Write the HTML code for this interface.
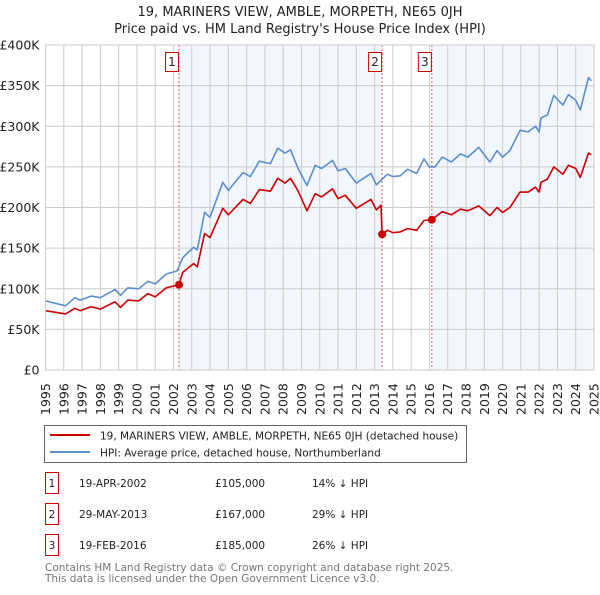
<!DOCTYPE html>
<html><head><meta charset="utf-8"><style>
body{margin:0;background:#fff;font-family:"Liberation Sans","DejaVu Sans",sans-serif;}
svg text{font-family:"DejaVu Sans","Liberation Sans",sans-serif;}
</style></head><body>
<svg id="chart" width="600" height="590" viewBox="0 0 600 590" xmlns="http://www.w3.org/2000/svg">
<text x="300" y="16" text-anchor="middle" font-size="13" fill="#222">19, MARINERS VIEW, AMBLE, MORPETH, NE65 0JH</text>
<text x="300" y="33" text-anchor="middle" font-size="13" fill="#222">Price paid vs. HM Land Registry's House Price Index (HPI)</text>
<g id="plot"></g>
<g>
<rect x="44.5" y="425.5" width="422" height="37" fill="#fff" stroke="#666"/>
<line x1="50" y1="435" x2="90" y2="435" stroke="#cc0000" stroke-width="2"/>
<text x="100" y="439.5" font-size="10.5" fill="#222">19, MARINERS VIEW, AMBLE, MORPETH, NE65 0JH (detached house)</text>
<line x1="50" y1="452" x2="90" y2="452" stroke="#5b8fd0" stroke-width="2"/>
<text x="100" y="456.5" font-size="10.5" fill="#222">HPI: Average price, detached house, Northumberland</text>
</g>
<g id="table" font-size="10.5" fill="#222"></g>
<text x="45" y="571" font-size="10.5" fill="#777">Contains HM Land Registry data © Crown copyright and database right 2025.</text>
<text x="45" y="582" font-size="10.5" fill="#777">This data is licensed under the Open Government Licence v3.0.</text>
</svg>
<script>
const hpiYears=[1995,1996.1,1996.6,1996.9,1997.5,1998,1998.8,1999.1,1999.5,2000.1,2000.6,2001,2001.6,2002.2,2002.5,2003.1,2003.3,2003.7,2004,2004.7,2005,2005.8,2006.2,2006.7,2007.3,2007.7,2008.1,2008.4,2008.8,2009.3,2009.75,2010.1,2010.7,2011,2011.4,2012,2012.8,2013.1,2013.7,2014,2014.4,2014.8,2015.3,2015.7,2016,2016.3,2016.7,2017.2,2017.7,2018.1,2018.7,2019.3,2019.7,2020,2020.4,2020.95,2021.4,2021.8,2022,2022.1,2022.45,2022.8,2023.3,2023.6,2024,2024.25,2024.7,2024.85];
const hpiValues=[85,79,89,86,91,89,99,92,101,100,109,106,118,122,138,151,148,194,188,231,221,243,238,257,254,273,267,271,249,227,252,248,258,245,248,230,242,228,241,238,239,247,242,260,250,250,262,256,266,262,274,256,270,262,270,295,293,300,293,310,314,338,326,339,332,320,360,356];
const propYears=[1995,1996.1,1996.6,1996.9,1997.5,1998,1998.8,1999.1,1999.5,2000.1,2000.6,2001,2001.6,2002.3,2002.5,2003.1,2003.3,2003.7,2004,2004.7,2005,2005.8,2006.2,2006.7,2007.3,2007.7,2008.1,2008.4,2008.8,2009.3,2009.75,2010.1,2010.7,2011,2011.4,2012,2012.8,2013.1,2013.35,2013.41,2013.7,2014,2014.4,2014.8,2015.3,2015.7,2016.13,2016.3,2016.7,2017.2,2017.7,2018.1,2018.7,2019.3,2019.7,2020,2020.4,2020.95,2021.4,2021.8,2022,2022.1,2022.45,2022.8,2023.3,2023.6,2024,2024.25,2024.7,2024.85];
const propValues=[73,69,76,73,78,75,84,77,86,85,94,90,101,105,120,131,127,168,163,199,191,210,205,222,220,236,230,236,221,196,217,213,223,211,215,199,210,197,203,167,172,169,170,174,172,184,185,188,195,191,198,196,202,190,200,194,200,219,219,225,219,231,235,250,241,252,248,237,267,265];
const saleYears=[2002.3,2013.41,2016.13];
const saleValues=[105,167,185];
const saleLabels=["1","2","3"];
const saleDates=["19-APR-2002","29-MAY-2013","19-FEB-2016"];
const salePrices=["£105,000","£167,000","£185,000"];
const salePct=["14% ↓ HPI","29% ↓ HPI","26% ↓ HPI"];
const yTicks=[0,50,100,150,200,250,300,350,400];
const yTickLabels=["£0","£50K","£100K","£150K","£200K","£250K","£300K","£350K","£400K"];
const xTicks=[1995,1996,1997,1998,1999,2000,2001,2002,2003,2004,2005,2006,2007,2008,2009,2010,2011,2012,2013,2014,2015,2016,2017,2018,2019,2020,2021,2022,2023,2024,2025];

const NS="http://www.w3.org/2000/svg";
const L=45.5,R=594,T=45,B=370;
const xs=y=>L+(y-1995)/30*(R-L);
const ys=v=>B-v/400*(B-T);
const g=document.getElementById('plot');
function mk(tag,attrs,parent){const e=document.createElementNS(NS,tag);for(const k in attrs)e.setAttribute(k,attrs[k]);(parent||g).appendChild(e);return e;}
let s1=mk('rect',{x:xs(saleYears[0]),y:T,width:xs(saleYears[1])-xs(saleYears[0]),height:B-T,fill:'#f2f6fd'});


let s2=mk('rect',{x:xs(saleYears[2]),y:T,width:R-xs(saleYears[2]),height:B-T,fill:'#f2f6fd'});


xTicks.forEach((t,i)=>{
 let l=mk('line',{x1:xs(t),x2:xs(t),y1:T,y2:B,stroke:'#cccccc','stroke-width':1});
 
 
 let tx=mk('text',{x:0,y:0,'font-size':12.5,fill:'#222',transform:`translate(${xs(t)+4.5},${B+45}) rotate(-90)`});
 tx.textContent=t;
 
 
});
yTicks.forEach((t,i)=>{
 let l=mk('line',{x1:L,x2:R,y1:ys(t),y2:ys(t),stroke:'#cccccc','stroke-width':1});
 
 
 let tx=mk('text',{x:L-6,y:ys(t)+4.5,'font-size':12.5,fill:'#222','text-anchor':'end'});
 tx.textContent=yTickLabels[i];
 
 
});
saleYears.forEach((y,i)=>{
 let l=mk('line',{x1:xs(y),x2:xs(y),y1:T,y2:B,stroke:'#ee5555','stroke-width':1,'stroke-dasharray':'2,2'});
 
 
 let r=mk('rect',{x:xs(y)-13.5,y:52.5,width:13,height:19,fill:'#fff',stroke:'#cc0000'});
 
 
 let tx=mk('text',{x:xs(y)-7,y:66,'font-size':12,fill:'#222','text-anchor':'middle'});
 tx.textContent=saleLabels[i];
 
 
});
const path=(xsArr,vs)=>xsArr.map((y,i)=>(i?'L':'M')+xs(y).toFixed(1)+','+ys(vs[i]).toFixed(1)).join('');
let hp=mk('path',{d:path(hpiYears,hpiValues),fill:'none',stroke:'#5b8fd0','stroke-width':1.6,'stroke-linejoin':'round'});


let pp=mk('path',{d:path(propYears,propValues),fill:'none',stroke:'#cc0000','stroke-width':1.6,'stroke-linejoin':'round'});


saleYears.forEach((y,i)=>{
 let c=mk('circle',{cx:xs(y),cy:ys(saleValues[i]),r:4,fill:'#cc0000'});
 
 
});
let fr=mk('rect',{x:L,y:T,width:R-L,height:B-T,fill:'none',stroke:'#cccccc'});


const tb=document.getElementById('table');
const rowsY=[483,514,545];
saleLabels.forEach((s,i)=>{
 const y=rowsY[i];
 let r=mk('rect',{x:45.5,y:y-10.5,width:13,height:21,fill:'#fff',stroke:'#cc0000'},tb);
 
 
 const cells=[[52,s,'middle'],[79,saleDates[i],'start'],[215,salePrices[i],'start'],[312,salePct[i],'start']];
 cells.forEach(c=>{
  let t=mk('text',{x:c[0],y:y+4,'text-anchor':c[2]},tb);
  t.textContent=c[1];
  
  
 });
});
</script>
</body></html>
